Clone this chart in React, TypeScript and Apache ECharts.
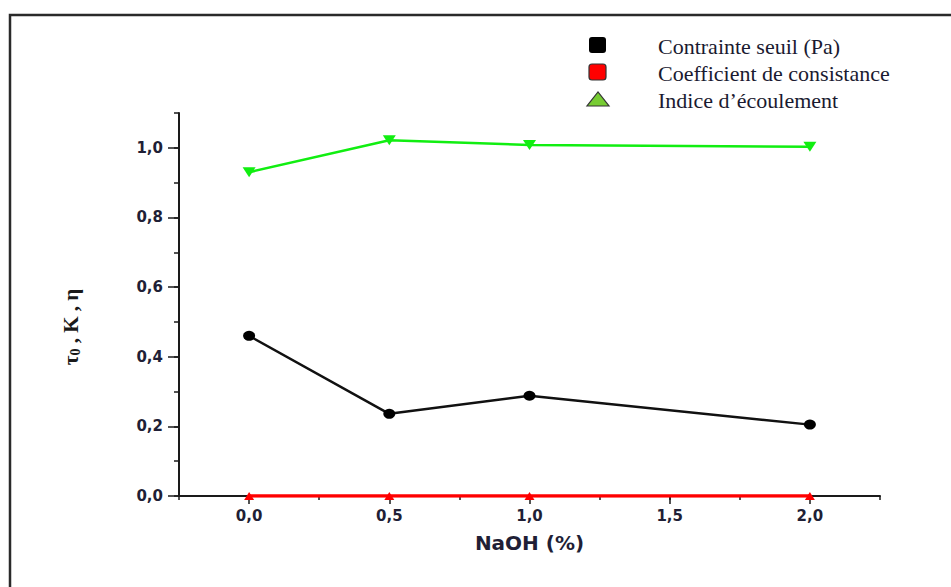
import React, { useEffect, useRef } from "react";
import * as echarts from "echarts";

// NaOH concentration (%) for each measurement
const naoh = [0.0, 0.5, 1.0, 2.0];
// Rheological parameters at each concentration
const contrainteSeuil = [0.46, 0.236, 0.288, 0.205];
const coefficientConsistance = [0.0, 0.0, 0.0, 0.0];
const indiceEcoulement = [0.93, 1.022, 1.008, 1.003];

const seriesNames = [
  "Contrainte seuil (Pa)",
  "Coefficient de consistance",
  "Indice d\u2019\u00e9coulement",
];

// Major tick positions
const xMajorTicks = [0.0, 0.5, 1.0, 1.5, 2.0];
const yMajorTicks = [0.0, 0.2, 0.4, 0.6, 0.8, 1.0];

const axisColor = "#1a1a1a";
const labelColor = "#1f1f36";
const labelFont = "'DejaVu Sans', sans-serif";

const fmtComma = (v: number) => v.toFixed(1).replace(".", ",");

const toPoints = (values: number[]) => naoh.map((x, i) => [x, values[i]]);

export default function App() {
  const ref = useRef<HTMLDivElement>(null);

  useEffect(() => {
    if (!ref.current) return;
    const chart = echarts.init(ref.current, undefined, { renderer: "svg" });

    const baseX = {
      type: "value" as const,
      min: -0.25,
      max: 2.25,
      interval: 0.25,
      position: "bottom" as const,
      splitLine: { show: false },
    };
    const baseY = {
      type: "value" as const,
      min: 0,
      max: 1.1,
      interval: 0.1,
      position: "left" as const,
      splitLine: { show: false },
    };

    chart.setOption({
      animation: false,
      backgroundColor: "#ffffff",
      grid: { left: 179, right: 71, top: 113, bottom: 91, containLabel: false },
      xAxis: [
        {
          ...baseX,
          name: "NaOH (%)",
          nameLocation: "middle",
          nameGap: 37,
          nameTextStyle: {
            fontFamily: labelFont,
            fontWeight: "bold",
            fontSize: 20,
            color: labelColor,
          },
          axisLine: { show: true, onZero: false, lineStyle: { color: axisColor, width: 2 } },
          axisTick: { show: true, inside: false, length: 4, lineStyle: { color: axisColor, width: 1.5 } },
          axisLabel: {
            interval: 0,
            margin: 12,
            fontFamily: labelFont,
            fontWeight: "bold",
            fontSize: 15,
            color: labelColor,
            formatter: (v: number) => (Math.round(v * 100) % 50 === 0 ? fmtComma(v) : ""),
          },
        },
        {
          ...baseX,
          offset: 0,
          axisLine: { show: false, onZero: false },
          axisLabel: { show: false },
          axisTick: {
            show: true,
            inside: false,
            length: 8,
            customValues: xMajorTicks,
            lineStyle: { color: axisColor, width: 1.5 },
          },
        },
      ],
      yAxis: [
        {
          ...baseY,
          axisLine: { show: true, onZero: false, lineStyle: { color: axisColor, width: 2 } },
          axisTick: { show: true, inside: false, length: 5, lineStyle: { color: axisColor, width: 1.5 } },
          axisLabel: {
            interval: 0,
            margin: 16,
            fontFamily: labelFont,
            fontWeight: "bold",
            fontSize: 15,
            color: labelColor,
            formatter: (v: number) => (Math.round(v * 10) % 2 === 0 ? fmtComma(v) : ""),
          },
        },
        {
          ...baseY,
          offset: 0,
          axisLine: { show: false, onZero: false },
          axisLabel: { show: false },
          axisTick: {
            show: true,
            inside: false,
            length: 11,
            customValues: yMajorTicks,
            lineStyle: { color: axisColor, width: 1.5 },
          },
        },
      ],
      series: [
        {
          name: seriesNames[2],
          type: "line",
          data: toPoints(indiceEcoulement),
          symbol: "triangle",
          symbolRotate: 180,
          symbolSize: [13, 10],
          lineStyle: { color: "#11ee11", width: 2.5 },
          itemStyle: { color: "#11ee11" },
          z: 3,
        },
        {
          name: seriesNames[0],
          type: "line",
          data: toPoints(contrainteSeuil),
          symbol: "circle",
          symbolSize: [12, 10],
          lineStyle: { color: "#111111", width: 2.5 },
          itemStyle: { color: "#000000" },
          z: 3,
        },
        {
          name: seriesNames[1],
          type: "line",
          data: toPoints(coefficientConsistance),
          symbol: "triangle",
          symbolSize: [10, 8],
          lineStyle: { color: "#ff0000", width: 3.5 },
          itemStyle: { color: "#ff0000" },
          z: 4,
        },
      ],
      graphic: [
        // outer figure frame
        {
          type: "rect",
          shape: { x: 10, y: 15, width: 1000, height: 700 },
          style: { fill: "none", stroke: "#2a2a2a", lineWidth: 2.5 },
          silent: true,
        },
        // legend
        {
          type: "rect",
          shape: { x: 589, y: 37, width: 17, height: 16, r: 3 },
          style: { fill: "#000000" },
        },
        {
          type: "rect",
          shape: { x: 589, y: 64, width: 17, height: 16, r: 3 },
          style: { fill: "#ff0000", stroke: "#333333", lineWidth: 1.2 },
        },
        {
          type: "polygon",
          shape: { points: [[587, 106], [609, 106], [598, 92]] },
          style: { fill: "#77cc33", stroke: "#333333", lineWidth: 1.2 },
        },
        ...seriesNames.map((name, i) => ({
          type: "text",
          x: 658,
          y: 46 + i * 27,
          style: {
            text: name,
            fontFamily: "'Liberation Serif', 'Times New Roman', serif",
            fontSize: 22,
            fill: "#1a1a30",
            align: "left",
            verticalAlign: "middle",
          },
        })),
        // y-axis title
        {
          type: "text",
          x: 71,
          y: 327,
          rotation: Math.PI / 2,
          style: {
            text: "{a|\u03c4}{s|0}{a| , K , \u03b7}",
            align: "center",
            verticalAlign: "middle",
            rich: {
              a: {
                fontFamily: "'Liberation Serif', 'Times New Roman', serif",
                fontWeight: "bold",
                fontSize: 21,
                fill: "#1a1a1a",
              },
              s: {
                fontFamily: "'Liberation Serif', 'Times New Roman', serif",
                fontWeight: "bold",
                fontSize: 14,
                fill: "#1a1a1a",
                verticalAlign: "bottom",
                padding: [8, 0, 0, 0],
              },
            },
          },
        },
      ],
    });

    return () => chart.dispose();
  }, []);

  return (
    <div
      ref={ref}
      style={{ position: "fixed", left: 0, top: 0, width: 951, height: 587, background: "#fff" }}
    />
  );
}
